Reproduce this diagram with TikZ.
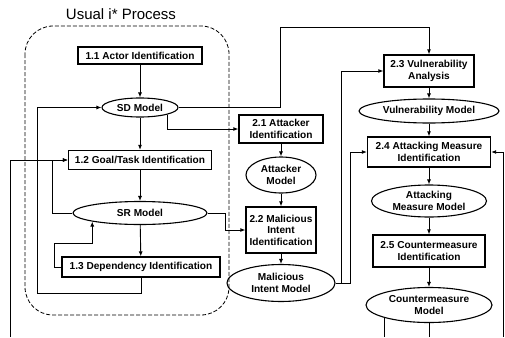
\documentclass[tikz,border=0pt]{standalone}
\usepackage{fontspec}
\setmainfont{Liberation Sans}
\usetikzlibrary{shapes.geometric,arrows.meta}
\tikzset{
  lbl/.style={font=\bfseries\fontsize{10.1}{11.6}\selectfont, align=center, inner sep=0pt},
  procbox/.style={lbl, draw, line width=1.3pt, rectangle},
  modelell/.style={lbl, draw, line width=1.1pt, ellipse},
  conn/.style={line width=0.9pt},
  arr/.style={conn, -{Latex[length=5pt,width=4pt]}},
  region/.style={dashed, line width=0.8pt, dash pattern=on 4pt off 2pt, rounded corners=28pt}
}
\begin{document}
\begin{tikzpicture}[x=1pt,y=-1pt]
\useasboundingbox (0,0) rectangle (505,337);
\node[font=\fontsize{15}{17}\selectfont, inner sep=0pt] (title) at (121,14) {Usual i* Process};
\draw[region] (25,26) rectangle (229,315);

% left column
\node[procbox, minimum width=124pt, minimum height=17pt] (a11) at (140,55.5) {1.1 Actor Identification};
\node[modelell, minimum width=76pt, minimum height=19pt] (sd) at (140,107.5) {SD Model};
\node[procbox, minimum width=143pt, minimum height=19pt] (a12) at (140,160) {1.2 Goal/Task Identification};
\node[modelell, minimum width=134pt, minimum height=23pt] (sr) at (140,213) {SR Model};
\node[procbox, minimum width=158pt, minimum height=20pt] (a13) at (141,267) {1.3 Dependency Identification};

% middle column
\node[procbox, minimum width=84pt, minimum height=28pt] (b21) at (281,129) {2.1 Attacker\\Identification};
\node[modelell, minimum width=70pt, minimum height=36pt] (am) at (281,175) {Attacker\\Model};
\node[procbox, minimum width=70pt, minimum height=46pt] (b22) at (281,230) {2.2 Malicious\\Intent\\Identification};
\node[modelell, minimum width=108pt, minimum height=37pt] (mim) at (281,283) {Malicious\\Intent Model};

% right column
\node[procbox, minimum width=90pt, minimum height=32pt] (b23) at (429,71) {2.3 Vulnerability\\Analysis};
\node[modelell, minimum width=140pt, minimum height=24pt] (vm) at (429,111) {Vulnerability Model};
\node[procbox, minimum width=123pt, minimum height=30pt] (b24) at (429,152) {2.4 Attacking Measure\\Identification};
\node[modelell, minimum width=115pt, minimum height=32pt] (amm) at (429,201) {Attacking\\Measure Model};
\node[procbox, minimum width=112pt, minimum height=32pt] (b25) at (429,251) {2.5 Countermeasure\\Identification};
\node[modelell, minimum width=126pt, minimum height=35pt] (cm) at (429,305) {Countermeasure\\Model};

% helper coordinates
\coordinate (l1) at (37,293);
\coordinate (l2) at (54,243);
\coordinate (l3) at (52,0);
\coordinate (e1) at (10,337);
\coordinate (t1) at (280,27);
\coordinate (s1) at (225,0);
\coordinate (m1) at (341,0);
\coordinate (m2) at (350,0);
\coordinate (bot) at (0,337);
\coordinate (r1) at (503,337);

% left column flow
\draw[arr] (a11) -- (sd);
\draw[arr] (sd) -- (a12);
\draw[arr] (a12) -- (sr);
\draw[arr] (sr) -- (a13);
\draw[arr] (a13.south) |- (l1) |- (sd.west);
\draw[arr] (a13.west) -| (l2) -| (sr.south west);
\draw[arr] (sr.west) -- (sr.west -| l3) |- (a12.west);
\draw[arr] (e1) |- (a12.west);

% to middle/right
\draw[arr] (sd.south east) |- (b21.west);
\draw[arr] (sd.east) -| (t1) -| (b23.north);
\draw[arr] (sr.east) -- (sr.east -| s1) |- (b22.west);

\draw[arr] (b21) -- (am);
\draw[arr] (am) -- (b22);
\draw[arr] (b22) -- (mim);
\draw[arr] (mim.east) -- (mim.east -| m1) |- (b23.west);
\draw[arr] (mim.east) -- (mim.east -| m2) |- (b24.west);

\draw[arr] (b23) -- (vm);
\draw[arr] (vm) -- (b24);
\draw[arr] (b24) -- (amm);
\draw[arr] (amm) -- (b25);
\draw[arr] (b25) -- (cm);
\draw[conn] (cm.south west) -- (cm.south west |- bot);
\draw[conn] (cm.south) -- (cm.south |- bot);
\draw[arr] (r1) |- (b24.east);
\end{tikzpicture}
\end{document}
